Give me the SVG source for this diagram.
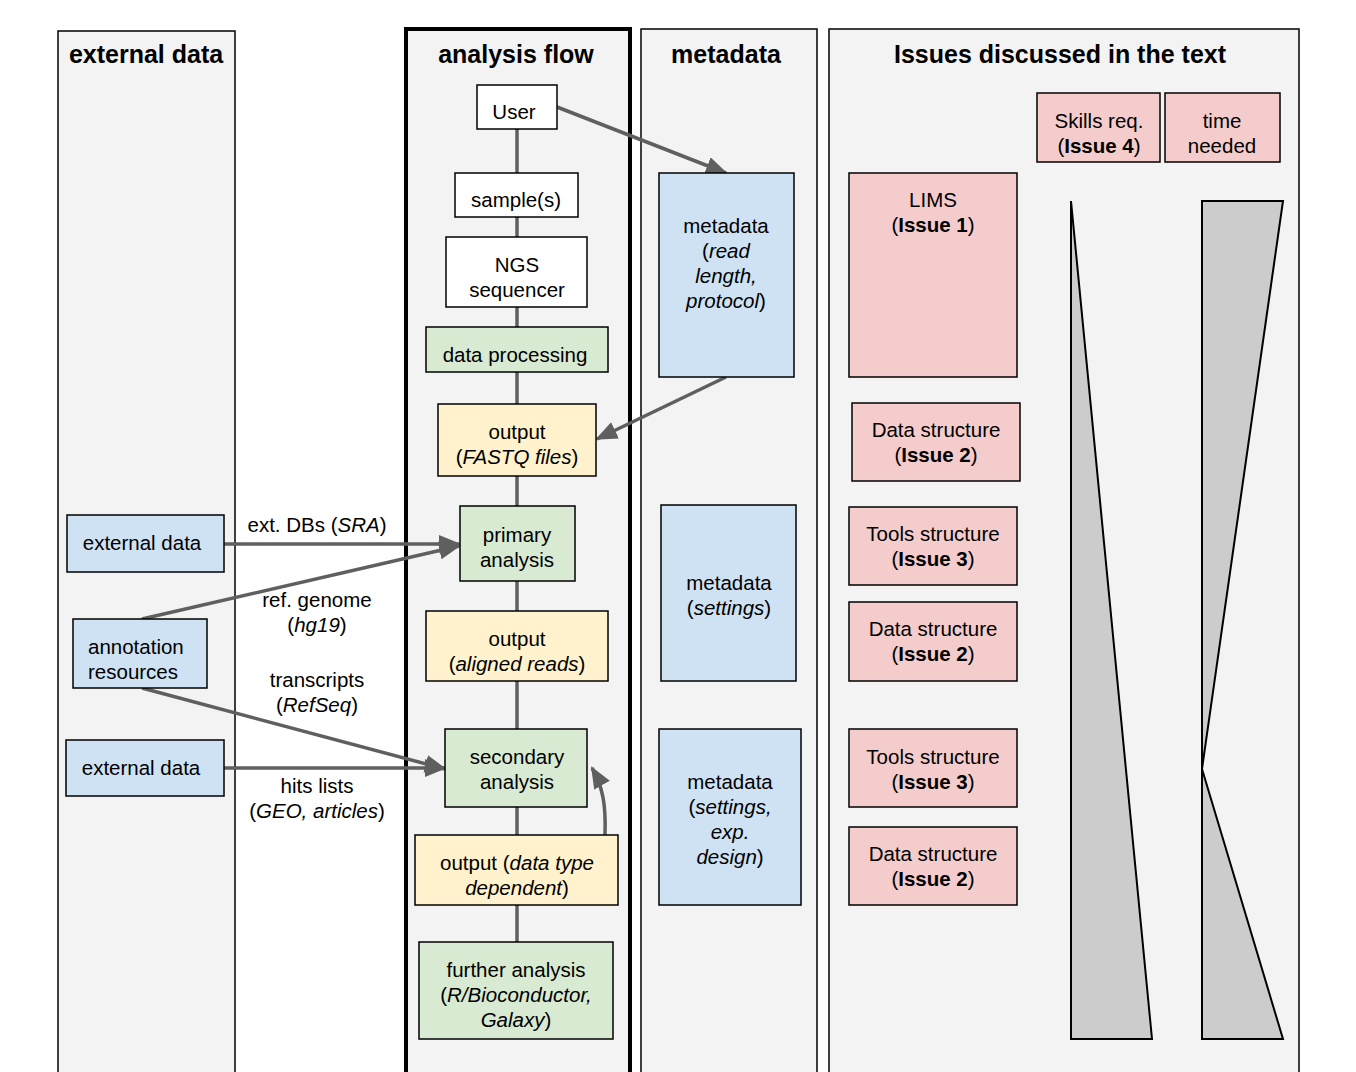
<svg xmlns="http://www.w3.org/2000/svg" width="1356" height="1072" viewBox="0 0 1356 1072">
<defs>
<marker id="ah" markerUnits="userSpaceOnUse" markerWidth="24" markerHeight="20" refX="20" refY="9" orient="auto">
<path d="M0,0 L22,9 L0,18 Z" fill="#5f5f5f"/>
</marker>
<style>
text{font-family:"Liberation Sans",Arial,sans-serif;font-size:20.5px;fill:#000;text-anchor:middle}
.title{font-size:25px;font-weight:bold}
.lane{fill:#f3f3f3;stroke:#000;stroke-width:1.5}
.n{stroke:#000;stroke-width:1.5}
.w{fill:#ffffff}.g{fill:#d9ead3}.y{fill:#fff2cc}.b{fill:#cfe2f3}.p{fill:#f4cccc}
.tri{fill:#cccccc;stroke:#000;stroke-width:2;stroke-linejoin:miter}
.c{stroke:#5f5f5f;stroke-width:3.5;fill:none}
.i{font-style:italic}
.bd{font-weight:bold}
</style>
</defs>
<rect width="1356" height="1072" fill="#ffffff"/>
<g id="lanes">
<rect class="lane" x="58" y="31" width="177" height="1060"/>
<rect class="lane" x="406" y="29" width="224" height="1060" style="stroke-width:4"/>
<rect class="lane" x="641" y="29" width="176" height="1060"/>
<rect class="lane" x="829" y="29" width="470" height="1060"/>
<text class="title" x="146" y="63">external data</text>
<text class="title" x="516" y="63">analysis flow</text>
<text class="title" x="726" y="63">metadata</text>
<text class="title" x="1060" y="63">Issues discussed in the text</text>
</g>
<g id="connectors">
<line class="c" x1="517" y1="129" x2="517" y2="173"/>
<line class="c" x1="517" y1="217" x2="517" y2="237"/>
<line class="c" x1="517" y1="307" x2="517" y2="327"/>
<line class="c" x1="517" y1="372" x2="517" y2="404"/>
<line class="c" x1="517" y1="476" x2="517" y2="506"/>
<line class="c" x1="517" y1="581" x2="517" y2="611"/>
<line class="c" x1="517" y1="681" x2="517" y2="729"/>
<line class="c" x1="517" y1="807" x2="517" y2="835"/>
<line class="c" x1="517" y1="905" x2="517" y2="942"/>
<line class="c" x1="557" y1="107" x2="726" y2="173" marker-end="url(#ah)"/>
<line class="c" x1="726" y1="377" x2="597" y2="439" marker-end="url(#ah)"/>
<line class="c" x1="224" y1="544" x2="459" y2="544" marker-end="url(#ah)"/>
<line class="c" x1="142" y1="619" x2="459" y2="546" marker-end="url(#ah)"/>
<line class="c" x1="142" y1="688" x2="445" y2="769" marker-end="url(#ah)"/>
<line class="c" x1="224" y1="768" x2="445" y2="768" marker-end="url(#ah)"/>
<path class="c" d="M605,835 C606,805 603,787 592,768" marker-end="url(#ah)"/>
<text x="317" y="532">ext. DBs (<tspan class="i">SRA</tspan>)</text>
<text x="317" y="607">ref. genome</text>
<text x="317" y="632">(<tspan class="i">hg19</tspan>)</text>
<text x="317" y="687">transcripts</text>
<text x="317" y="712">(<tspan class="i">RefSeq</tspan>)</text>
<text x="317" y="793">hits lists</text>
<text x="317" y="818">(<tspan class="i">GEO, articles</tspan>)</text>
</g>
<g id="user"><rect class="n w" x="477" y="85" width="80" height="44"/><text x="514" y="119">User</text></g>
<g id="samples"><rect class="n w" x="455" y="173" width="123" height="44"/><text x="516" y="207">sample(s)</text></g>
<g id="ngs"><rect class="n w" x="446" y="237" width="141" height="70"/><text x="517" y="272">NGS</text><text x="517" y="297">sequencer</text></g>
<g id="dataproc"><rect class="n g" x="426" y="327" width="182" height="45"/><text x="515" y="362">data processing</text></g>
<g id="fastq"><rect class="n y" x="438" y="404" width="158" height="72"/><text x="517" y="439">output</text><text x="517" y="464">(<tspan class="i">FASTQ files</tspan>)</text></g>
<g id="primary"><rect class="n g" x="460" y="506" width="115" height="75"/><text x="517" y="542">primary</text><text x="517" y="567">analysis</text></g>
<g id="aligned"><rect class="n y" x="426" y="611" width="182" height="70"/><text x="517" y="646">output</text><text x="517" y="671">(<tspan class="i">aligned reads</tspan>)</text></g>
<g id="secondary"><rect class="n g" x="445" y="729" width="142" height="78"/><text x="517" y="764">secondary</text><text x="517" y="789">analysis</text></g>
<g id="dtdep"><rect class="n y" x="415" y="835" width="203" height="70"/><text x="517" y="870">output (<tspan class="i">data type</tspan></text><text x="517" y="895"><tspan class="i">dependent</tspan>)</text></g>
<g id="further"><rect class="n g" x="419" y="942" width="194" height="97"/><text x="516" y="977">further analysis</text><text x="516" y="1002">(<tspan class="i">R/Bioconductor,</tspan></text><text x="516" y="1027"><tspan class="i">Galaxy</tspan>)</text></g>
<g id="meta1"><rect class="n b" x="659" y="173" width="135" height="204"/><text x="726" y="233">metadata</text><text x="726" y="258">(<tspan class="i">read</tspan></text><text x="726" y="283"><tspan class="i">length,</tspan></text><text x="726" y="308"><tspan class="i">protocol</tspan>)</text></g>
<g id="meta2"><rect class="n b" x="661" y="505" width="135" height="176"/><text x="729" y="590">metadata</text><text x="729" y="615">(<tspan class="i">settings</tspan>)</text></g>
<g id="meta3"><rect class="n b" x="659" y="729" width="142" height="176"/><text x="730" y="789">metadata</text><text x="730" y="814">(<tspan class="i">settings,</tspan></text><text x="730" y="839"><tspan class="i">exp.</tspan></text><text x="730" y="864"><tspan class="i">design</tspan>)</text></g>
<g id="ext1"><rect class="n b" x="67" y="515" width="157" height="57"/><text x="142" y="550">external data</text></g>
<g id="annot"><rect class="n b" x="73" y="619" width="134" height="69"/><text x="88" y="654" style="text-anchor:start">annotation</text><text x="88" y="679" style="text-anchor:start">resources</text></g>
<g id="ext2"><rect class="n b" x="66" y="740" width="158" height="56"/><text x="141" y="775">external data</text></g>
<g id="skills"><rect class="n p" x="1037" y="93" width="123" height="69"/><text x="1099" y="128">Skills req.</text><text x="1099" y="153">(<tspan class="bd">Issue 4</tspan>)</text></g>
<g id="time"><rect class="n p" x="1165" y="93" width="115" height="69"/><text x="1222" y="128">time</text><text x="1222" y="153">needed</text></g>
<g id="lims"><rect class="n p" x="849" y="173" width="168" height="204"/><text x="933" y="207">LIMS</text><text x="933" y="232">(<tspan class="bd">Issue 1</tspan>)</text></g>
<g id="ds1"><rect class="n p" x="852" y="403" width="168" height="78"/><text x="936" y="437">Data structure</text><text x="936" y="462">(<tspan class="bd">Issue 2</tspan>)</text></g>
<g id="ts1"><rect class="n p" x="849" y="507" width="168" height="78"/><text x="933" y="541">Tools structure</text><text x="933" y="566">(<tspan class="bd">Issue 3</tspan>)</text></g>
<g id="ds2"><rect class="n p" x="849" y="602" width="168" height="79"/><text x="933" y="636">Data structure</text><text x="933" y="661">(<tspan class="bd">Issue 2</tspan>)</text></g>
<g id="ts2"><rect class="n p" x="849" y="729" width="168" height="78"/><text x="933" y="764">Tools structure</text><text x="933" y="789">(<tspan class="bd">Issue 3</tspan>)</text></g>
<g id="ds3"><rect class="n p" x="849" y="827" width="168" height="78"/><text x="933" y="861">Data structure</text><text x="933" y="886">(<tspan class="bd">Issue 2</tspan>)</text></g>
<g id="skills-wedge"><polygon class="tri" points="1071,201 1152,1039 1071,1039"/></g>
<g id="time-wedge"><polygon class="tri" points="1202,201 1283,201 1202,769 1283,1039 1202,1039"/></g>
</svg>
